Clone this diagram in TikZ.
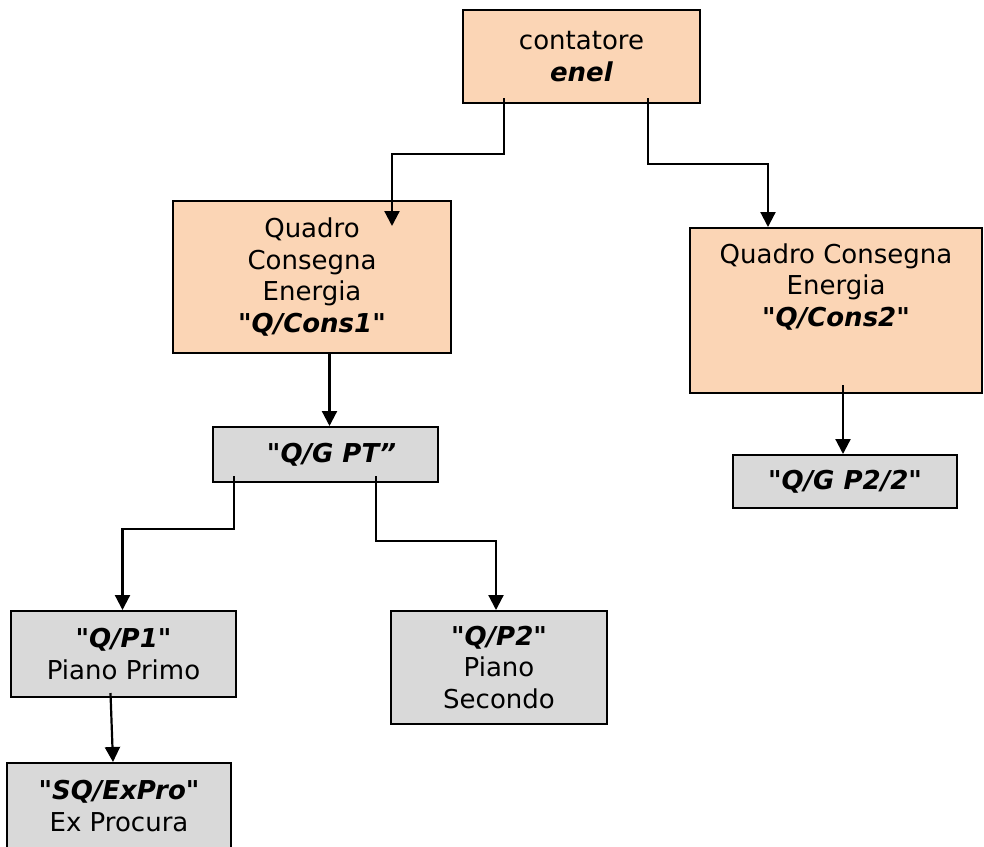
\documentclass[tikz,border=0pt]{standalone}
\usepackage{fontspec}
\newfontfamily\dejavu{DejaVu Sans}
\usepackage{tikz}
\usetikzlibrary{arrows.meta,positioning,calc}

\definecolor{peach}{RGB}{251,213,181}
\definecolor{lgrey}{RGB}{217,217,217}
\newcommand{\qname}[1]{\textbf{\textit{#1}}}

\begin{document}
\begin{tikzpicture}[x=1pt,y=-1pt,
  boxfont/.style={font=\dejavu\fontsize{26}{31.5}\selectfont},
  box/.style={draw=black,line width=2pt,rectangle,align=center,inner sep=2pt,boxfont},
  peachbox/.style={box,fill=peach},
  greybox/.style={box,fill=lgrey},
  arr/.style={line width=2.2pt,-{Triangle[width=15pt,length=15pt]}}]
\useasboundingbox (0,0) rectangle (984,846);

\node[peachbox,name=enel,minimum width=237,minimum height=93] at (581.5,56.5) {contatore\\\qname{enel}};

\node[peachbox,name=cons1,minimum width=278,minimum height=152] at (312,277) {Quadro\\Consegna\\Energia\\\qname{"Q/Cons1"}};
\node[peachbox,name=cons2,minimum width=292,minimum height=165,
  label={[name=cons2txt,anchor=north,yshift=-13pt,align=center,boxfont]north:Quadro Consegna\\Energia\\\qname{"Q/Cons2"}}] at (836,310.5) {};

\node[greybox,name=qgpt,minimum width=225,minimum height=55] at (325.5,454.5) {\hspace{12pt}\qname{"Q/G PT”}};
\node[greybox,name=qgp22,minimum width=224,minimum height=53] at (845,481.5) {\qname{"Q/G P2/2"}};

\node[greybox,name=qp1,minimum width=225,minimum height=86] at (123.5,654) {\qname{"Q/P1"}\\Piano Primo};
\node[greybox,name=qp2,minimum width=216,minimum height=113] at (499,667.5) {\qname{"Q/P2"}\\Piano\\Secondo};
\node[greybox,name=sqex,minimum width=224,minimum height=86] at (119,806) {\qname{"SQ/ExPro"}\\Ex Procura};

% enel
\draw[arr] ([shift={(42,-6)}]enel.south west) -- ++(0,56) -| ([shift={(80,26)}]cons1.north);
\draw[arr] ([shift={(-53,-6)}]enel.south east) -- ++(0,66) -| ([xshift=-68]cons2.north);

% quadri consegna
\draw[arr] ([xshift=4]qgpt.north |- cons1.south) -- ([xshift=4]qgpt.north);
\draw[arr] ([shift={(7,-9)}]cons2.south) -- ([xshift=-2]qgp22.north);

% quadro generale
\draw[arr] ([shift={(22,-7)}]qgpt.south west) -- ++(0,53) -| ([xshift=-1]qp1.north);
\draw[arr] ([shift={(164,-7)}]qgpt.south west) -- ++(0,65) -| ([xshift=-3]qp2.north);

\draw[arr] ([shift={(-13,-5)}]qp1.south) -- ([xshift=-6]sqex.north);
\end{tikzpicture}
\end{document}
